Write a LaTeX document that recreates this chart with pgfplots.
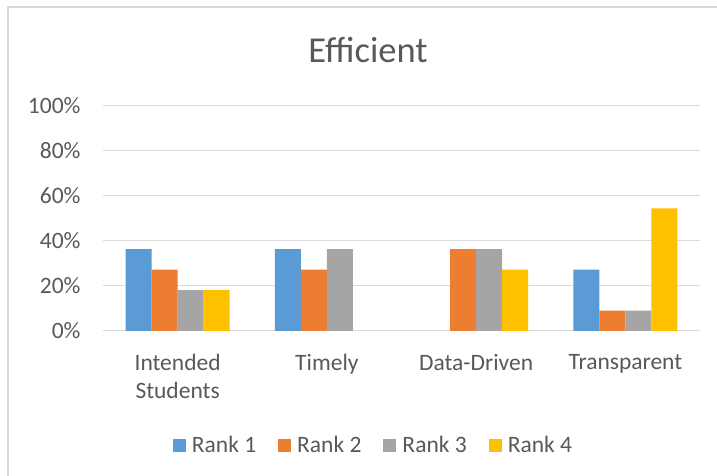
\documentclass[border=0pt]{standalone}
\usepackage{pgfplots}
\pgfplotsset{compat=1.18}
\usepackage{fontspec}
\setmainfont{Carlito}
\definecolor{txt}{HTML}{595959}
\definecolor{grd}{HTML}{D9D9D9}
\definecolor{rA}{HTML}{5B9BD5}
\definecolor{rB}{HTML}{ED7D31}
\definecolor{rC}{HTML}{A5A5A5}
\definecolor{rD}{HTML}{FFC000}

\begin{document}
\begin{tikzpicture}[x=1pt,y=1pt]
\useasboundingbox (0,0) rectangle (717,476);
\fill[white] (0,0) rectangle (717,476);
% chart frame, runs off the right and bottom edges
\draw[grd, line width=1.5pt] (8,-20) -- (8,469) -- (740,469);

\node[anchor=base, text=txt, font=\fontsize{36.5}{40}\selectfont] at (368,413) {Efficient};

\begin{axis}[
    at={(103pt,145pt)}, anchor=south west,
    scale only axis,
    width=597pt, height=225pt,
    ybar=0pt,
    bar width=26pt,
    xmin=-0.5, xmax=3.5,
    ymin=0, ymax=100,
    xtick={0,1,2,3},
    xticklabels={Intended\\Students, Timely, Data-Driven, Transparent},
    ytick={0,20,40,60,80,100},
    yticklabels={0\%,20\%,40\%,60\%,80\%,100\%},
    major tick length=0pt,
    ymajorgrids,
    grid style={grd, line width=1pt},
    axis line style={draw=none},
    tick label style={text=txt, font=\fontsize{23.5}{28}\selectfont},
    xticklabel style={align=center, yshift=-20pt},
    yticklabel style={xshift=-19pt},
    legend columns=4,
    legend image code/.code={\fill[#1] (0pt,-6.5pt) rectangle (13pt,6.5pt);},
    legend style={draw=none, fill=none, at={(axis description cs:0.4531,-0.5067)}, anchor=center,
        font=\fontsize{23.5}{28}\selectfont, text=txt,
        /tikz/every odd column/.append style={column sep=4pt},
        /tikz/every even column/.append style={column sep=20pt}},
]
\addplot[fill=rA, draw=none] coordinates {(0,36.36) (1,36.36) (3,27.27)};
\addplot[fill=rB, draw=none] coordinates {(0,27.27) (1,27.27) (2,36.36) (3,9.09)};
\addplot[fill=rC, draw=none] coordinates {(0,18.18) (1,36.36) (2,36.36) (3,9.09)};
\addplot[fill=rD, draw=none] coordinates {(0,18.18) (2,27.27) (3,54.55)};
\legend{Rank 1, Rank 2, Rank 3, Rank 4}
\end{axis}
\end{tikzpicture}
\end{document}
